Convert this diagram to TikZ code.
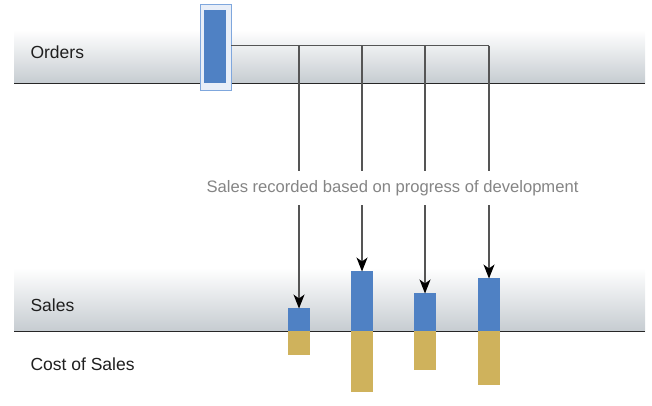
\documentclass[tikz,border=0pt]{standalone}
\usepackage{fontspec}
\setmainfont{Liberation Sans}
\usetikzlibrary{positioning,arrows.meta}
\definecolor{barblue}{RGB}{79,129,196}
\definecolor{bargold}{RGB}{207,178,92}
\definecolor{bandgray}{RGB}{198,204,209}
\definecolor{hlfill}{RGB}{232,238,248}
\definecolor{hldraw}{RGB}{127,167,221}
\definecolor{linegray}{RGB}{85,85,85}

\begin{document}
\begin{tikzpicture}[x=1pt,y=-1pt,
  band/.style={top color=white,bottom color=bandgray,draw=none},
  base/.style={black!85,line width=0.9pt},
  lbl/.style={anchor=west,font=\fontsize{17.5}{20}\selectfont,text=black!88},
  note/.style={font=\fontsize{16.6}{19}\selectfont,text=black!48,fill=white,inner xsep=3pt,inner ysep=9pt},
  sbar/.style={fill=barblue,minimum width=22pt,inner sep=0pt,outer sep=0pt,anchor=south},
  cbar/.style={fill=bargold,minimum width=22pt,inner sep=0pt,outer sep=0pt,anchor=north},
  ln/.style={linegray,line width=1.1pt},
  fl/.style={-{Stealth[length=14pt,width=11pt,inset=4pt,black]},ln,shorten >=-0.5pt},
]
\useasboundingbox (0,0) rectangle (652,405);
% bands
\fill[band] (14,30) rectangle (645,83);
\fill[band] (14,268) rectangle (645,331);
\draw[base] (14,83) -- (645,83);
\draw[base] (14,331) -- (645,331);
\node[lbl] (orders) at (27,52) {Orders};
\node[lbl] (sales) at (27,305) {Sales};
\node[lbl] (cos) at (27,364) {Cost of Sales};
% orders bar
\node[draw=hldraw,fill=hlfill,line width=0.9pt,minimum width=31pt,minimum height=86pt,inner sep=0pt] (ordbox) at (215.5,47) {};
\node[fill=barblue,minimum width=22pt,minimum height=73pt,inner sep=0pt] (ordbar) at (215,46.5) {};
% sales / cost bars
\node[sbar,minimum height=23pt] (s1) at (299,331) {};
\node[cbar,minimum height=24pt] (c1) at (299,331) {};
\node[sbar,minimum height=60pt] (s2) at (362,331) {};
\node[cbar,minimum height=61pt] (c2) at (362,331) {};
\node[sbar,minimum height=38pt] (s3) at (425,331) {};
\node[cbar,minimum height=39pt] (c3) at (425,331) {};
\node[sbar,minimum height=53pt] (s4) at (489,331) {};
\node[cbar,minimum height=54pt] (c4) at (489,331) {};
% split of the order
\coordinate (t1) at (299,45.5);
\coordinate (t2) at (362,45.5);
\coordinate (t3) at (425,45.5);
\coordinate (t4) at (489,45.5);
\draw[ln] (ordbox.east |- t1) -- (t4);
\draw[fl] (t1) -- (s1.north);
\draw[fl] (t2) -- (s2.north);
\draw[fl] (t3) -- (s3.north);
\draw[fl] (t4) -- (s4.north);
\node[note] (rec) at (392.5,188) {Sales recorded based on progress of development};
\end{tikzpicture}
\end{document}
